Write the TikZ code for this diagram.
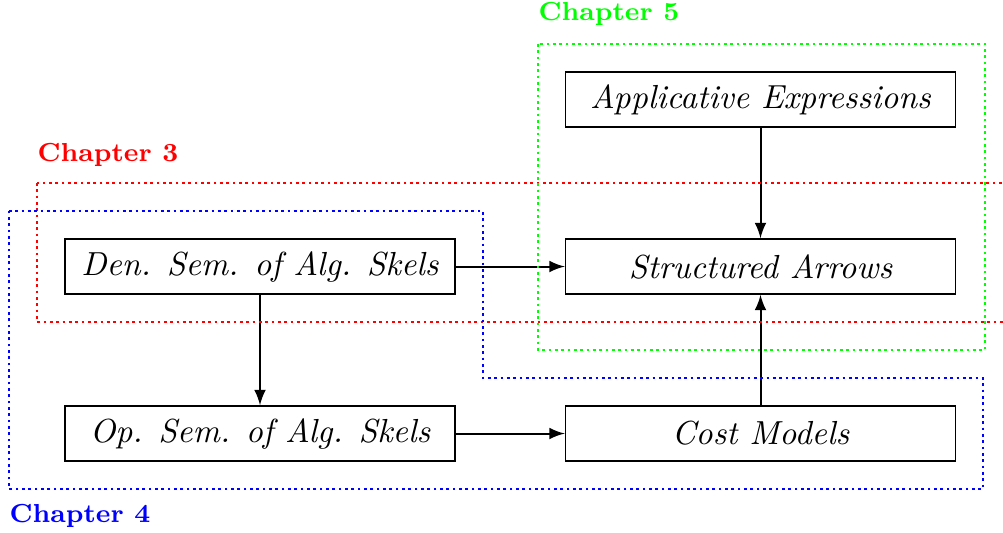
\documentclass[tikz,border=0pt]{standalone}
\usetikzlibrary{arrows}
\begin{document}
\begin{tikzpicture}[x=0.3pt,y=-0.3pt,
  box/.style={draw, line width=0.45pt, minimum width=117pt, minimum height=16.5pt, inner sep=0pt, font=\itshape},
  conn/.style={-latex, line width=0.6pt},
  chap/.style={line width=0.8pt, dash pattern=on 0.8pt off 1.1pt},
  chaplabel/.style={anchor=west, inner sep=0pt, font=\fontsize{7.8}{9}\selectfont\bfseries}]
\clip (0,0) rectangle (1003,532);
\node[box] (app) at (760.5,99.5) {Applicative Expressions};
\node[box] (arr) at (760.5,266.5) {Structured Arrows};
\node[box] (cost) at (760.5,433.5) {Cost Models};
\node[box] (den) at (260,266.5) {Den. Sem. of Alg. Skels};
\node[box] (op) at (260,433.5) {Op. Sem. of Alg. Skels};
\draw[conn] (app) -- (arr);
\draw[conn] (den) -- (arr);
\draw[conn] (den) -- (op);
\draw[conn] (op) -- (cost);
\draw[conn] (cost) -- (arr);
\draw[chap, red] (37,183) rectangle (1020,322);
\draw[chap, green] (538,44) rectangle (985,350);
\draw[chap, blue] (9,211) -- (483,211) -- (483,378) -- (983,378) -- (983,489) -- (9,489) -- cycle;
\node[chaplabel, text=red] (c3) at (37,155) {Chapter 3};
\node[chaplabel, text=green] (c5) at (538,14) {Chapter 5};
\node[chaplabel, text=blue] (c4) at (9,516) {Chapter 4};
\end{tikzpicture}
\end{document}
